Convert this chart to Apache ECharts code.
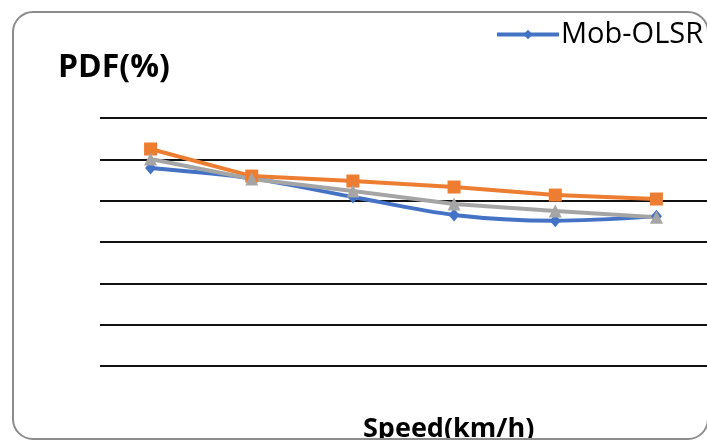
<!DOCTYPE html>
<html>
<head>
<meta charset="utf-8">
<script src="https://cdn.jsdelivr.net/npm/echarts@6/dist/echarts.min.js"></script>
<style>
html,body{margin:0;padding:0;background:#fff;}
#chart{width:707px;height:442px;}
</style>
</head>
<body>
<div id="chart"></div>
<script>
var categories = ['10', '20', '30', '40', '50', '60'];
var mobOlsr = [95.8, 90.8, 81.8, 73.1, 70.3, 72.4];
var series2 = [105.0, 91.9, 89.5, 86.6, 82.7, 80.8];
var series3 = [100.2, 90.5, 84.7, 78.4, 75.0, 72.0];
var yTicks = [0, 20, 40, 60, 80, 100, 120];

var chart = echarts.init(document.getElementById('chart'), null, {renderer: 'canvas'});
chart.setOption({
  backgroundColor: '#ffffff',
  animation: false,
  title: [
    {text: 'PDF(%)', left: 58, top: 52, padding: 0,
     textStyle: {fontFamily: 'Open Sans', fontWeight: 'bold', fontSize: 32, color: '#000'}},
    {text: 'Speed(km/h)', left: 363, top: 416, padding: 0,
     textStyle: {fontFamily: 'Open Sans', fontWeight: 'bold', fontSize: 27, color: '#000'}}
  ],
  legend: {
    data: [{name: 'Mob-OLSR', lineStyle: {width: 4, color: '#4472C4'}}],
    left: 495, top: 20, padding: 0,
    itemWidth: 62, itemHeight: 12,
    lineStyle: {width: 4},
    textStyle: {fontFamily: 'Open Sans', fontSize: 29, color: '#000', padding: [0, 0, 0, -3]}
  },
  grid: {left: 100, top: 118, width: 610, height: 248, containLabel: false},
  xAxis: {
    type: 'category', data: categories, boundaryGap: true,
    axisLine: {show: false}, axisTick: {show: false}, axisLabel: {show: false}
  },
  yAxis: {
    type: 'value', min: yTicks[0], max: yTicks[yTicks.length - 1], interval: 20,
    axisLine: {show: false}, axisTick: {show: false}, axisLabel: {show: false},
    splitLine: {show: true, lineStyle: {color: '#111', width: 2}}
  },
  series: [
    {name: 'Mob-OLSR', type: 'line', data: mobOlsr, smooth: 0.3,
     symbol: 'diamond', symbolSize: [11, 13],
     lineStyle: {color: '#4472C4', width: 4}, itemStyle: {color: '#4472C4'}},
    {name: 'Series2', type: 'line', data: series2,
     symbol: 'rect', symbolSize: 13,
     lineStyle: {color: '#ED7D31', width: 4}, itemStyle: {color: '#ED7D31'}},
    {name: 'Series3', type: 'line', data: series3,
     symbol: 'triangle', symbolSize: 13,
     lineStyle: {color: '#A5A5A5', width: 4}, itemStyle: {color: '#A5A5A5'}}
  ],
  graphic: [
    {type: 'rect', z: 100, shape: {x: 0, y: 440, width: 707, height: 2}, style: {fill: '#fff'}},
    {type: 'rect', z: 101, shape: {x: 13, y: 12, width: 695, height: 427, r: 20},
     style: {fill: null, stroke: '#8c8c8c', lineWidth: 2}}
  ]
});
</script>
</body>
</html>
